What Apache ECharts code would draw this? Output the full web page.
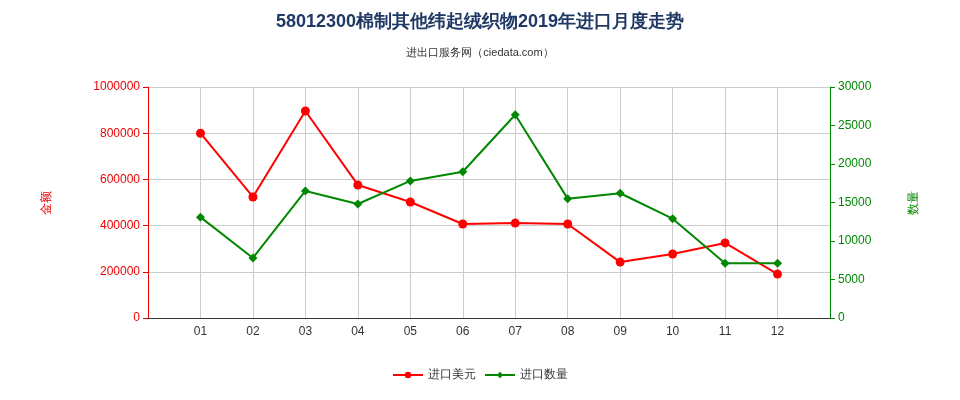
<!DOCTYPE html><html><head><meta charset="utf-8"><script src="https://cdn.jsdelivr.net/npm/echarts@6/dist/echarts.min.js"></script></head><body style="margin:0"><div id="c" style="width:960px;height:400px"></div><script>
const categories=["","01","02","03","04","05","06","07","08","09","10","11","12",""];
const amount=[null,800000,524000,896000,576000,502000,407000,411000,407000,242000,277000,325000,190000,null];
const qty=[null,13100,7800,16500,14800,17800,19000,26400,15500,16200,12900,7100,7100,null];
const leftTicks=[0,200000,400000,600000,800000,1000000];
const c=echarts.init(document.getElementById('c'));
c.setOption({
title:{text:'58012300棉制其他纬起绒织物2019年进口月度走势',subtext:'进出口服务网（ciedata.com）',left:'center',top:8,textStyle:{fontSize:18,fontWeight:'bold',color:'#1f3864'},subtextStyle:{fontSize:11,color:'#333'},itemGap:16},
legend:{bottom:14,itemWidth:30,itemHeight:8,data:['进口美元','进口数量'],textStyle:{fontSize:12,color:'#333'}},
grid:{left:148,right:130,top:87,bottom:82},
xAxis:{type:'category',data:categories,boundaryGap:false,axisTick:{show:false},splitLine:{show:true,lineStyle:{color:'#ccc'}},axisLine:{lineStyle:{color:'#333'}},axisLabel:{color:'#333'}},
yAxis:[{type:'value',min:0,max:leftTicks[leftTicks.length-1],interval:200000,name:'金额',nameLocation:'middle',nameGap:95,nameTextStyle:{color:'#e00'},axisLine:{show:true,lineStyle:{color:'#e00'}},axisTick:{show:true},axisLabel:{color:'#e00',formatter:v=>String(v)},splitLine:{lineStyle:{color:'#ccc'}}},
{type:'value',min:0,max:30000,interval:5000,name:'数量',nameLocation:'middle',nameGap:78,nameTextStyle:{color:'#080'},axisLine:{show:true,lineStyle:{color:'#080'}},axisTick:{show:true},axisLabel:{color:'#080',formatter:v=>String(v)},splitLine:{show:false}}],
series:[{name:'进口美元',type:'line',data:amount,symbol:'circle',symbolSize:9,itemStyle:{color:'#f00'},lineStyle:{color:'#f00',width:2}},
{name:'进口数量',type:'line',yAxisIndex:1,data:qty,symbol:'diamond',symbolSize:9,itemStyle:{color:'#080'},lineStyle:{color:'#080',width:2}}]
});
</script></body></html>
